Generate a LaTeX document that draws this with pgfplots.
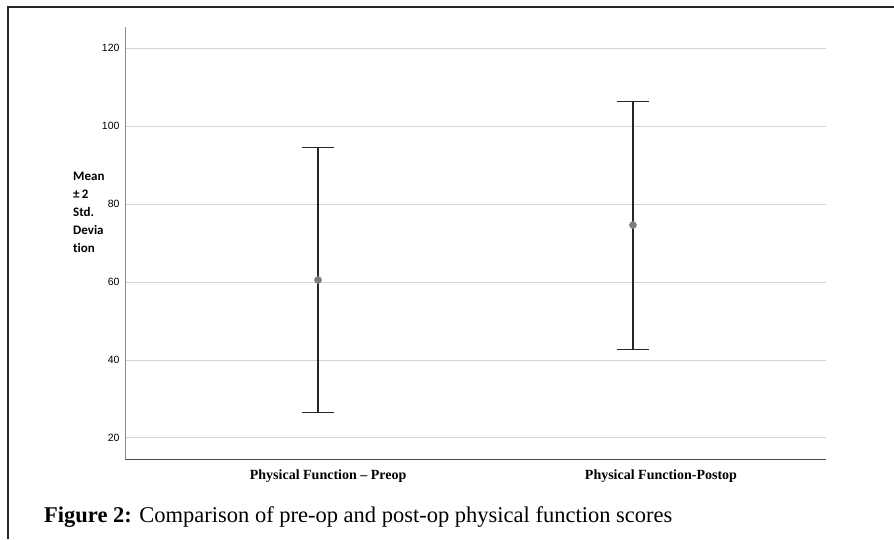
\documentclass[border=0pt]{standalone}
\usepackage{pgfplots}
\pgfplotsset{compat=1.18}
\usepackage{fontspec}
\setmainfont{Liberation Serif}
\newfontfamily\arial{Liberation Sans}
\newfontfamily\calibri[Ligatures=NoCommon]{Carlito}
\definecolor{gridgray}{HTML}{D4D4D4}
\definecolor{axgray}{HTML}{8A8A8A}
\definecolor{markgray}{HTML}{7F7F7F}
\begin{document}
\begin{tikzpicture}[x=1pt,y=1pt]
\path[use as bounding box] (0,0) rectangle (894,539);
\draw[line width=2.2pt, black!85] (8,0) -- (8,532) -- (894,532);
\begin{axis}[
  at={(125pt,80pt)}, anchor=south west,
  scale only axis, width=701pt, height=432pt,
  xmin=-0.613, xmax=1.613,
  ymin=14.6, ymax=125.4,
  axis x line*=bottom, axis y line*=left,
  axis line style={-, line width=0.8pt},
  x axis line style={black!70},
  y axis line style={axgray},
  ytick={20,40,60,80,100,120},
  ymajorgrids, grid style={gridgray, line width=0.9pt},
  major tick length=0pt,
  /pgf/number format/assume math mode=true,
  yticklabel style={font=\arial\fontsize{10.5}{10.5}\selectfont, xshift=-2pt},
  xtick={0.032,1.089},
  xticklabels={Physical Function -- Preop, Physical Function-Postop},
  xticklabel style={font=\bfseries\fontsize{14}{14}\selectfont, yshift=-7pt},
  clip=false,
]
\addplot[only marks, mark=none,
  error bars/.cd, y dir=both, y explicit,
  error bar style={black!85, line width=1.1pt},
  error mark options={rotate=90, mark size=16pt, line width=1.1pt, black!85}]
  coordinates {(0,60.5) +- (0,33.9) (1,74.6) +- (0,31.8)};
\addplot[only marks, mark=*, mark size=3.6pt, mark options={fill=markgray, draw=markgray}]
  coordinates {(0,60.5) (1,74.6)};
\end{axis}
\node[anchor=north west, align=left, font=\calibri\bfseries\fontsize{13}{18}\selectfont, inner sep=0pt] at (73,367)
  {Mean\\±\,2\\Std.\\Devia\\tion};
\node[anchor=base west, inner sep=0pt, font=\fontsize{22.5}{22.5}\selectfont] at (44,17)
  {\textbf{Figure 2:} Comparison of pre-op and post-op physical function scores};
\end{tikzpicture}
\end{document}
